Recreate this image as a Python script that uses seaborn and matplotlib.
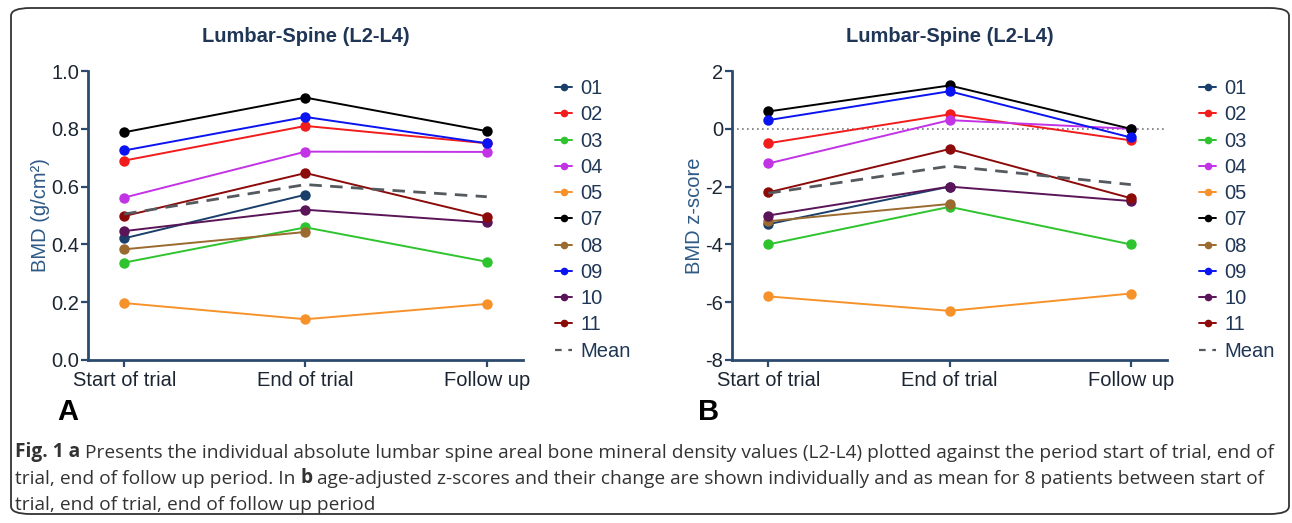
import numpy as np
import pandas as pd
import matplotlib
matplotlib.use("Agg")
import matplotlib.pyplot as plt
import seaborn as sns
from matplotlib.lines import Line2D
from matplotlib.patches import FancyBboxPatch

# ---- data ----
timepoints = ["Start of trial", "End of trial", "Follow up"]
patients = ["01", "02", "03", "04", "05", "07", "08", "09", "10", "11"]

bmd = {
    "01": [0.421, 0.572, np.nan],
    "02": [0.690, 0.810, 0.750],
    "03": [0.337, 0.459, 0.340],
    "04": [0.562, 0.721, 0.720],
    "05": [0.197, 0.141, 0.194],
    "07": [0.788, 0.908, 0.792],
    "08": [0.383, 0.443, np.nan],
    "09": [0.725, 0.841, 0.750],
    "10": [0.446, 0.520, 0.476],
    "11": [0.498, 0.647, 0.496],
}
bmd_mean = [0.505, 0.607, 0.565]

zscore = {
    "01": [-3.3, -2.0, np.nan],
    "02": [-0.5, 0.5, -0.4],
    "03": [-4.0, -2.7, -4.0],
    "04": [-1.2, 0.3, 0.0],
    "05": [-5.8, -6.3, -5.7],
    "07": [0.6, 1.5, 0.0],
    "08": [-3.2, -2.6, np.nan],
    "09": [0.3, 1.3, -0.3],
    "10": [-3.0, -2.0, -2.5],
    "11": [-2.2, -0.7, -2.4],
}
zscore_mean = [-2.23, -1.29, -1.93]

colors = {
    "01": "#1b3f6b", "02": "#f21c1c", "03": "#2ec42e", "04": "#c233e6",
    "05": "#f7922a", "07": "#000000", "08": "#9a6a2e", "09": "#0a14f0",
    "10": "#5a1458", "11": "#8c0a0a",
}

navy = "#1f3656"
spine_col = "#2c4a6e"
label_col = "#2f5a86"
mean_col = "#555a5f"


def long_frame(values):
    rows = []
    for p in patients:
        for t, v in zip(timepoints, values[p]):
            rows.append({"patient": p, "time": t, "value": v})
    return pd.DataFrame(rows)


sns.set_theme(style="ticks")
plt.rcParams["font.family"] = ["Liberation Sans", "DejaVu Sans"]
plt.rcParams["axes.unicode_minus"] = False

fig = plt.figure(figsize=(12.92, 5.23), dpi=100)
ax1 = fig.add_axes([0.0681, 0.3117, 0.3367, 0.5525])
ax2 = fig.add_axes([0.5666, 0.3117, 0.3367, 0.5525])


def draw_panel(ax, values, mean_vals, ylim, yticks, ylabel):
    df = long_frame(values)
    sns.lineplot(data=df, x="time", y="value", hue="patient", palette=colors,
                 marker="o", markersize=7.5, markeredgewidth=0, linewidth=1.4,
                 sort=False, legend=False, ax=ax)
    mdf = pd.DataFrame({"time": timepoints, "value": mean_vals})
    sns.lineplot(data=mdf, x="time", y="value", color=mean_col, linewidth=2,
                 linestyle=(0, (4.5, 3)), sort=False, ax=ax)
    ax.set_xlim(-0.2, 2.2)
    ax.set_ylim(*ylim)
    ax.set_yticks(yticks)
    ax.set_xlabel("")
    ax.set_ylabel(ylabel, fontsize=14.5, color=label_col, labelpad=1)
    ax.set_title("Lumbar-Spine (L2-L4)", fontsize=14.5, fontweight="bold",
                 color=navy, pad=21)
    for s in ["top", "right"]:
        ax.spines[s].set_visible(False)
    for s in ["left", "bottom"]:
        ax.spines[s].set_color(spine_col)
        ax.spines[s].set_linewidth(2)
    ax.tick_params(axis="both", colors=spine_col, width=1.6, length=5,
                   labelsize=14.5, labelcolor="#1c2633")
    ax.tick_params(axis="y", pad=1.5)
    ax.tick_params(axis="x", pad=3)

    handles = [Line2D([], [], color=colors[p], marker="o", markersize=5.5,
                      markeredgewidth=0, linewidth=1.4) for p in patients]
    handles.append(Line2D([], [], color=mean_col, linewidth=1.6,
                          linestyle=(0, (3, 3))))
    leg = ax.legend(handles, patients + ["Mean"], loc="upper left",
                    bbox_to_anchor=(1.055, 1.0), frameon=False,
                    fontsize=14.5, handlelength=0.85, handletextpad=0.4,
                    labelspacing=0.36, borderaxespad=0)
    for t in leg.get_texts():
        t.set_color(navy)


draw_panel(ax1, bmd, bmd_mean, (0, 1.0), [0, 0.2, 0.4, 0.6, 0.8, 1.0],
           "BMD (g/cm²)")
ax1.set_yticklabels(["0.0", "0.2", "0.4", "0.6", "0.8", "1.0"])
draw_panel(ax2, zscore, zscore_mean, (-8, 2), [-8, -6, -4, -2, 0, 2],
           "BMD z-score")
ax2.axhline(0, color="#777777", linestyle=(0, (1, 2)), linewidth=1.2,
            zorder=0)

# panel letters
fig.text(57 / 1292, 1 - 412 / 523, "A", fontsize=21, fontweight="bold",
         color="black", va="center", ha="left")
fig.text(698 / 1292, 1 - 412 / 523, "B", fontsize=21, fontweight="bold",
         color="black", va="center", ha="left")

# caption with bold fragments
cap_font = ["Open Sans", "DejaVu Sans"]
cap_col = "#333333"
cap_size = 13.8
lines = [
    [("Fig. 1 a", "bold"), (" Presents the individual absolute lumbar spine areal bone mineral density values (L2-L4) plotted against the period start of trial, end of", "normal")],
    [("trial, end of follow up period. In ", "normal"), ("b", "bold"), (" age-adjusted z-scores and their change are shown individually and as mean for 8 patients between start of", "normal")],
    [("trial, end of trial, end of follow up period", "normal")],
]
line_y = [452, 479, 505]
for parts, ypix in zip(lines, line_y):
    prev = None
    for txt, w in parts:
        if prev is None:
            prev = fig.text(15 / 1292, 1 - ypix / 523, txt, fontsize=cap_size,
                            fontweight=w, family=cap_font, color=cap_col,
                            va="center", ha="left")
        else:
            prev = plt.annotate(txt, xy=(1, 0), xycoords=prev,
                                fontsize=cap_size, fontweight=w,
                                family=cap_font, color=cap_col,
                                va="bottom", ha="left",
                                annotation_clip=False)

# rounded outer frame
frame = FancyBboxPatch((11 / 1292, 1 - 514 / 523), 1278 / 1292, 506 / 523,
                       boxstyle="round,pad=0,rounding_size=0.015",
                       transform=fig.transFigure, fill=False,
                       edgecolor="#333333", linewidth=1.3)
fig.patches.append(frame)

fig.savefig("out.png", dpi=100)
